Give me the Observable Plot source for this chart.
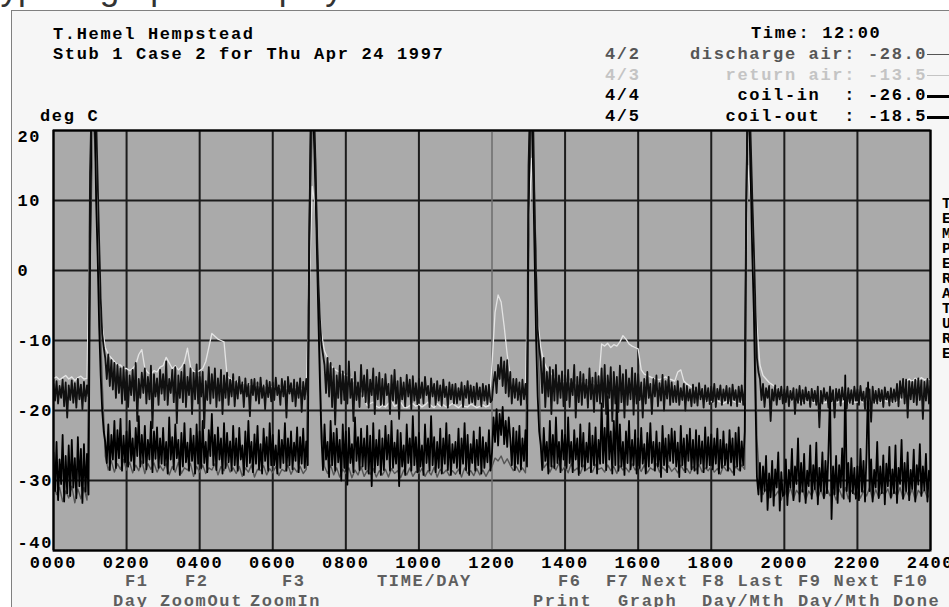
<!DOCTYPE html>
<html>
<head>
<meta charset="utf-8">
<script src="https://cdn.jsdelivr.net/npm/d3@7"></script>
<script src="https://cdn.jsdelivr.net/npm/@observablehq/plot@0.6"></script>
<style>
  html, body { margin: 0; padding: 0; width: 949px; height: 607px; overflow: hidden; background: #ffffff; }
  #doc { position: absolute; left: -19px; top: -30px; font: 35px "Liberation Sans", Arial, sans-serif; line-height: 35px; color: #333; white-space: nowrap; }
  #screen { position: absolute; left: 11px; top: 10px; width: 980px; height: 640px; border: 1px solid #808080; background: #f6f6f6; }
  #chart { position: absolute; left: 0; top: 0; }
  .t { position: absolute; font-family: "Liberation Mono", monospace; font-weight: bold; font-size: 17px;
       letter-spacing: 1.66px; line-height: 20.7px; white-space: pre; color: #000; }
  .sw { position: absolute; left: 927px; width: 40px; height: 0; }
  .fk { color: #5f5f5f; }
  #vert { position: absolute; left: 942px; top: 196.7px; font-family: "Liberation Mono", monospace; font-weight: bold;
          font-size: 15px; line-height: 15px; color: #000; width: 12px; white-space: pre; }
</style>
</head>
<body>
<div id="doc">Typical graph is displayed on the</div>
<div id="screen"></div>
<div id="chart"></div>
<div id="texts"></div>
<script>
// ---- data: temperatures (deg C), 0000 .. 2400 ----
// air temperatures every 5 minutes, coil temperatures every 2.5 minutes
const airStepMinutes = 5;
const coilStepMinutes = 2.5;

const dischargeAir = [
  -30.5, -32.0, -31.0, -33.0, -31.5, -32.5, -30.8, -33.2, -31.2, -32.6, -31.0, -32.8,
  0, 24, 14, -2, -16, -26.5, -28.5, -27.2, -28.8, -27.6, -28.4, -27.0,
  -28.5, -27.4, -28.9, -27.8, -28.6, -27.2, -29.0, -27.6, -28.4, -27.5, -28.8, -27.9,
  -28.6, -27.6, -29.2, -28.0, -28.8, -27.4, -29.0, -28.2, -28.5, -27.6, -29.4, -28.0,
  -28.8, -27.8, -29.0, -28.2, -28.5, -27.6, -29.2, -28.0, -28.6, -27.5, -28.8, -28.2,
  -29.0, -28.0, -29.4, -28.2, -28.8, -27.8, -29.5, -28.4, -28.6, -27.9, -29.2, -28.3,
  -28.9, -28.0, -29.3, -28.4, -28.7, -27.8, -29.1, -28.2, -28.8, -28.0, -29.0, -28.4,
  2, 22, 16, -4, -22, -28.0, -29.0, -27.8, -29.2, -28.2, -29.5, -28.4,
  -29.0, -28.2, -29.6, -28.5, -29.2, -28.0, -29.4, -28.6, -29.1, -28.3, -29.5, -28.6,
  -29.2, -28.4, -29.5, -28.3, -29.0, -28.6, -29.6, -28.5, -29.2, -28.2, -29.4, -28.7,
  -29.0, -28.3, -29.4, -28.6, -29.2, -28.1, -29.5, -28.4, -29.0, -28.5, -29.3, -28.6,
  -29.1, -28.4, -29.5, -28.2, -29.0, -28.6, -29.3, -28.3, -29.2, -28.5, -29.4, -28.6,
  -28.0, -26.8, -27.2, -26.5, -27.6, -26.9, -27.8, -28.6, -28.0, -28.8, -28.2, -28.9,
  4, 24, 10, -8, -24, -28.2, -27.6, -28.8, -27.9, -28.5, -27.5, -28.6,
  -28.0, -28.9, -27.6, -28.6, -28.2, -29.0, -27.8, -28.5, -28.1, -28.8, -27.7, -28.4,
  -28.2, -28.8, -27.8, -28.6, -28.0, -29.0, -27.9, -28.5, -28.2, -28.8, -27.6, -28.5,
  -28.0, -28.7, -27.8, -28.9, -28.2, -28.5, -27.6, -28.8, -28.1, -28.6, -27.9, -28.7,
  -28.2, -28.9, -27.8, -28.6, -28.3, -29.0, -28.0, -28.5, -27.7, -28.8, -28.2, -28.6,
  -28.0, -28.8, -28.3, -29.1, -27.9, -28.6, -28.2, -28.9, -28.0, -28.5, -27.8, -28.4,
  24, 16, 0, -24, -31.0, -32.0, -31.2, -32.5, -31.0, -32.2, -31.5, -32.8,
  -31.2, -32.4, -31.0, -32.6, -31.4, -32.0, -31.2, -32.8, -31.5, -32.2, -31.0, -32.5,
  -31.3, -32.6, -31.1, -32.2, -31.6, -32.8, -31.2, -32.4, -31.0, -32.6, -31.4, -32.0,
  -31.2, -32.5, -31.5, -32.2, -31.0, -32.7, -31.3, -32.4, -31.6, -32.0, -31.2, -32.6,
  -31.4, -32.2, -31.0, -32.6, -31.5, -32.3, -31.2, -32.8, -31.4, -32.0, -31.3, -32.5,
  -31.8
];

const returnAir = [
  -15.4, -15.2, -15.6, -15.3, -15.0, -15.5, -15.2, -15.7, -15.3, -15.1, -15.5, -15.4,
  8, 24, 20, 1, -8, -11, -12, -12.5, -13, -13.5, -13.5, -14,
  -14.0, -14.3, -14.0, -13.5, -12.0, -11.3, -14.0, -14.6, -14.8, -14.3, -14.5, -13.8,
  -13.6, -12.4, -13.2, -14.0, -13.6, -14.2, -13.8, -13.0, -11.1, -13.8, -14.4, -14.5,
  -14.3, -14.0, -13.0, -11.0, -9.0, -9.4, -9.8, -10.0, -10.2, -15.0, -15.5, -15.6,
  -15.8, -16.0, -16.2, -16.0, -16.4, -16.2, -16.5, -16.3, -16.6, -16.4, -16.5, -16.7,
  -16.5, -16.8, -16.6, -16.9, -16.7, -17.0, -16.8, -16.6, -16.9, -17.0, -16.8, -17.1,
  -2, 12, 9, -3, -9, -11.5, -12.5, -13.5, -14.0, -14.3, -14.5, -14.7,
  -15.0, -15.0, -15.5, -16.0, -16.8, -17.5, -18.2, -19.3, -19.0, -18.8, -19.4, -19.6,
  -19.2, -19.5, -19.0, -18.6, -19.4, -19.2, -18.8, -19.5, -19.6, -19.3, -19.0, -19.4,
  -19.1, -19.5, -19.2, -18.8, -19.3, -19.6, -19.0, -19.4, -19.2, -19.5, -19.3, -19.0,
  -19.3, -19.6, -19.2, -19.4, -19.5, -19.1, -19.3, -19.6, -19.4, -19.2, -19.5, -19.3,
  -13.5, -6.0, -3.5, -4.5, -8.0, -12.0, -15.0, -16.8, -17.5, -17.2, -17.6, -17.0,
  5, 16, 6, -7, -11, -13, -14, -14.5, -15, -15.5, -16, -15.8,
  -16.0, -15.6, -16.2, -15.8, -16.4, -16.0, -15.7, -16.2, -16.5, -16.0, -16.3, -16.1,
  -10.5, -10.8, -10.4, -11.0, -10.6, -10.8, -10.2, -9.3, -9.8, -10.5, -10.8, -11.0,
  -11.2, -14.2, -14.8, -15.0, -15.2, -15.4, -15.5, -15.6, -15.4, -15.2, -15.5, -15.6,
  -15.8, -14.5, -14.2, -15.8, -16.2, -16.5, -16.8, -17.2, -17.8, -18.4, -18.6, -18.8,
  -18.7, -18.9, -18.6, -18.8, -19.0, -18.7, -18.9, -18.6, -18.8, -19.0, -18.7, -18.8,
  15, 10, 0, -8, -13.5, -15.0, -15.5, -16.0, -16.3, -16.6, -17.0, -17.5,
  -17.8, -18.2, -18.5, -18.6, -18.8, -18.7, -18.9, -18.6, -18.8, -18.7, -18.9, -18.8,
  -18.7, -18.9, -18.8, -18.6, -18.8, -18.9, -18.7, -18.8, -18.6, -18.9, -18.7, -18.8,
  -18.8, -18.6, -18.9, -18.7, -18.8, -18.6, -18.9, -18.7, -18.8, -18.6, -18.7, -18.9,
  -18.6, -18.8, -18.5, -17.5, -15.8, -15.5, -15.9, -15.4, -15.7, -15.3, -15.6, -15.5,
  -15.6
];

const coilIn = [
  -26.0, -31.5, -24.5, -32.8, -27.0, -30.5, -23.5, -33.0, -26.5, -31.8, -25.0, -32.2, -24.2, -31.0, -26.8, -32.5, -23.8, -30.8, -25.5, -33.2, -24.8, -31.6, -26.2, -32.0,
  3, 20, 26, 24, 10, 2, -8, -15, -20, -23.0, -24.5, -27.5, -22.0, -28.5, -23.5, -27.0, -21.5, -28.2, -22.8, -26.8, -21.2, -28.6, -23.6, -27.4,
  -23.0, -28.0, -21.5, -27.2, -24.0, -28.5, -22.5, -26.5, -20.8, -28.0, -23.5, -27.5, -22.2, -28.4, -24.2, -27.0, -21.6, -28.8, -23.0, -26.9, -22.4, -28.2, -24.0, -27.6,
  -22.5, -27.8, -24.5, -29.0, -21.0, -27.0, -23.8, -28.4, -22.0, -26.8, -24.2, -29.2, -23.2, -28.0, -21.8, -27.4, -24.6, -28.6, -22.6, -27.2, -23.6, -29.0, -22.0, -27.6,
  -23.0, -28.2, -21.5, -27.5, -24.5, -28.8, -22.8, -26.5, -20.5, -27.8, -23.5, -28.5, -22.4, -27.0, -24.0, -29.0, -21.8, -28.2, -23.2, -27.4, -24.4, -28.6, -22.2, -27.8,
  -24.0, -28.6, -22.5, -27.0, -25.0, -29.2, -23.0, -28.0, -21.5, -27.5, -24.5, -28.8, -23.4, -27.6, -22.2, -28.4, -24.8, -29.0, -22.6, -27.2, -23.8, -28.6, -21.8, -27.8,
  -23.5, -27.8, -25.0, -29.0, -22.8, -28.2, -24.2, -27.5, -21.8, -28.6, -24.0, -27.8, -23.0, -28.4, -24.6, -27.2, -22.4, -28.8, -23.8, -27.6, -22.6, -28.2, -24.4, -27.8,
  5, 22, 25, 20, 12, 3, -7, -16, -24.0, -28.5, -22.0, -27.0, -24.5, -29.5, -21.5, -27.8, -23.2, -28.6, -22.6, -27.4, -24.2, -30.0, -22.0, -28.2,
  -23.0, -30.6, -22.5, -27.5, -24.8, -28.8, -21.0, -27.2, -23.8, -28.5, -22.6, -28.0, -24.0, -28.4, -22.2, -29.0, -23.6, -30.8, -21.8, -28.8, -24.2, -27.8, -22.8, -29.2,
  -24.0, -28.5, -22.2, -27.0, -23.5, -28.6, -21.5, -28.2, -24.6, -27.6, -22.8, -30.8, -23.2, -28.0, -25.0, -29.2, -22.0, -27.5, -24.0, -28.6, -20.8, -27.8, -23.8, -28.8,
  -23.2, -28.0, -25.0, -29.2, -22.0, -27.5, -24.0, -28.6, -20.8, -27.8, -23.8, -28.8, -24.5, -28.2, -22.6, -29.0, -24.0, -27.6, -21.8, -28.5, -23.5, -29.2, -24.8, -27.5,
  -24.5, -28.2, -22.6, -29.0, -24.0, -27.6, -21.8, -28.5, -23.5, -29.2, -24.8, -27.5, -23.0, -28.6, -24.2, -27.8, -22.4, -29.0, -23.8, -28.2, -24.6, -27.4, -22.8, -28.6,
  -26.0, -21.0, -24.5, -19.8, -25.0, -20.5, -23.5, -19.5, -24.8, -21.5, -25.2, -21.0, -24.0, -27.8, -22.5, -28.5, -23.0, -27.6, -22.2, -28.4, -24.0, -27.2, -22.8, -28.0,
  8, 22, 26, 14, 2, -10, -18, -23, -25.0, -28.5, -22.5, -27.2, -24.5, -29.0, -21.5, -28.0, -23.5, -28.2, -21.0, -27.5, -24.5, -28.8, -22.8, -27.0,
  -23.5, -28.2, -21.0, -27.5, -24.5, -28.8, -22.8, -27.0, -24.0, -29.2, -22.0, -28.0, -23.2, -28.6, -24.6, -27.4, -21.8, -28.8, -23.6, -27.8, -22.4, -29.0, -24.2, -27.6,
  -19.0, -27.5, -22.5, -28.5, -18.0, -27.0, -23.0, -29.0, -21.5, -27.8, -17.8, -28.6, -22.0, -28.0, -24.5, -29.2, -23.0, -27.5, -21.5, -28.4, -24.2, -27.8, -22.8, -29.0,
  -24.0, -28.2, -22.5, -27.6, -24.8, -29.0, -23.2, -28.0, -21.8, -27.5, -24.5, -28.6, -23.0, -28.0, -24.6, -29.5, -22.2, -27.8, -24.0, -28.8, -23.5, -27.2, -22.6, -27.5,
  -23.0, -28.0, -24.6, -29.5, -22.2, -27.8, -24.0, -28.8, -23.5, -27.2, -22.6, -28.4, -24.2, -28.6, -22.8, -29.0, -23.6, -27.6, -24.4, -28.8, -22.4, -28.2, -23.8, -27.8,
  -23.4, -28.4, -24.0, -27.6, -22.6, -29.0, -24.2, -28.2, -23.0, -27.8, -24.8, -28.6, -22.8, -27.4, -24.0, -29.2, -23.2, -28.0, -22.4, -28.6, -24.4, -27.8, -23.0, 8,
  26, 22, 12, 2, -6, -18, -29.5, -32.0, -27.5, -33.0, -28.0, -31.5, -26.5, -34.2, -29.0, -32.4, -27.2, -33.6, -28.4, -31.0, -26.0, -34.3, -28.8, -32.2,
  -32.0, -27.0, -33.5, -28.5, -31.0, -25.5, -32.8, -28.0, -30.5, -24.0, -33.0, -27.5, -31.6, -26.2, -33.2, -28.6, -30.8, -25.0, -32.6, -27.8, -31.2, -24.6, -33.4, -28.2,
  -31.5, -26.0, -32.5, -27.2, -31.8, -25.8, -17.5, -35.5, -28.0, -32.0, -26.5, -33.2, -27.8, -31.0, -25.4, -32.6, -15.0, -31.5, -27.5, -33.0, -26.8, -31.8, -28.2, -32.6,
  -28.0, -32.8, -25.5, -31.6, -27.2, -33.0, -26.0, -16.0, -31.5, -27.0, -33.0, -28.5, -31.0, -24.5, -32.5, -28.0, -31.8, -26.4, -33.4, -27.6, -30.8, -25.2, -32.4, -28.4,
  -31.8, -25.0, -33.2, -28.2, -30.5, -24.2, -32.6, -27.5, -31.5, -26.0, -32.8, -28.5, -31.2, -25.6, -33.0, -27.8, -30.6, -24.8, -32.2, -28.0, -31.4, -26.2, -33.0, -28.6,
  -30.0
];

const coilOut = [
  -16.2, -18.6, -15.8, -19.0, -16.5, -18.2, -15.6, -19.4, -16.0, -21.0, -16.4, -18.5, -15.7, -18.9, -16.1, -19.6, -15.5, -18.4, -16.3, -19.8, -15.9, -18.7, -16.4, -18.0,
  14, 24, 26, 26, 22, 13, 4, -4, -9, -11.0, -12.5, -15.5, -12.0, -16.5, -12.8, -17.0, -13.2, -18.2, -13.5, -17.5, -14.0, -19.0, -13.8, -18.5,
  -14.5, -19.5, -15.0, -17.8, -14.2, -18.6, -13.2, -21.5, -15.5, -18.2, -14.6, -17.5, -14.0, -19.0, -15.2, -18.4, -13.6, -22.5, -14.8, -18.0, -15.4, -19.2, -14.2, -17.6,
  -14.8, -18.5, -13.0, -19.2, -15.5, -17.5, -14.2, -18.8, -13.8, -21.8, -15.0, -18.2, -14.5, -18.8, -13.5, -19.5, -15.2, -17.8, -14.0, -20.5, -14.6, -18.4, -13.4, -19.0,
  -15.2, -18.0, -14.5, -22.5, -15.8, -18.5, -13.8, -19.0, -14.8, -18.2, -14.0, -19.5, -15.4, -18.6, -14.2, -20.5, -15.0, -18.2, -14.6, -19.2, -15.6, -18.0, -14.8, -19.4,
  -15.8, -18.3, -15.2, -17.6, -16.0, -19.5, -15.4, -18.0, -16.2, -20.8, -15.6, -17.8, -15.5, -18.6, -16.0, -19.0, -15.3, -18.2, -16.4, -19.8, -15.7, -18.1, -15.9, -18.7,
  -16.0, -18.5, -15.3, -17.8, -16.4, -19.2, -15.5, -18.0, -15.8, -21.0, -15.2, -17.6, -16.1, -18.7, -15.6, -19.4, -16.0, -18.2, -15.4, -20.2, -15.9, -18.4, -15.5, -17.8,
  4, 20, 25, 24, 16, 6, -2, -7, -10.5, -12.0, -13.5, -17.5, -12.5, -18.0, -13.2, -19.5, -14.0, -22.0, -15.0, -18.2, -13.6, -19.0, -14.4, -18.5,
  -14.8, -19.0, -13.0, -18.2, -15.5, -21.5, -14.5, -18.5, -16.0, -19.5, -13.5, -18.0, -15.0, -18.8, -14.2, -19.6, -15.6, -17.8, -14.0, -20.5, -15.2, -18.4, -14.6, -19.2,
  -15.5, -19.2, -14.8, -17.8, -16.2, -20.5, -15.0, -18.6, -14.2, -19.0, -15.8, -21.2, -15.3, -18.4, -16.0, -19.4, -14.9, -18.0, -15.6, -19.8, -15.1, -18.6, -16.1, -19.1,
  -15.5, -18.2, -16.0, -19.0, -15.2, -17.8, -16.5, -19.5, -15.4, -18.0, -16.2, -19.2, -15.8, -18.6, -16.4, -19.3, -15.6, -18.1, -16.6, -19.6, -16.0, -18.4, -16.3, -19.0,
  -16.2, -19.0, -16.8, -18.5, -16.0, -19.5, -16.5, -18.2, -15.8, -19.0, -16.4, -18.8, -16.6, -19.2, -16.1, -18.4, -16.7, -19.4, -16.2, -18.6, -16.5, -19.1, -16.3, -18.8,
  -18.5, -16.0, -14.5, -17.5, -13.5, -15.5, -12.4, -16.5, -13.0, -17.5, -12.8, -18.0, -14.5, -19.0, -15.5, -18.2, -15.5, -18.5, -16.0, -19.2, -15.6, -18.4, -16.2, -19.0,
  15, 24, 26, 22, 8, -1, -8.5, -11.0, -13.0, -17.5, -12.5, -19.5, -14.5, -18.0, -13.8, -20.5, -14.2, -18.6, -13.5, -19.0, -15.0, -18.2, -14.4, -19.4,
  -15.0, -18.5, -14.2, -19.5, -15.5, -17.8, -13.5, -21.0, -15.2, -18.8, -14.5, -19.2, -14.8, -18.2, -15.6, -19.6, -14.0, -18.4, -15.3, -20.2, -14.6, -18.7, -15.1, -19.0,
  -14.0, -19.5, -13.5, -20.5, -15.0, -18.2, -13.8, -21.5, -14.5, -19.0, -15.2, -20.2, -13.6, -18.8, -14.8, -21.0, -14.2, -19.2, -15.4, -18.4, -13.9, -20.6, -14.7, -19.0,
  -14.8, -18.5, -16.0, -21.0, -15.5, -19.0, -14.5, -18.2, -16.2, -20.5, -15.5, -18.0, -15.0, -19.4, -16.1, -18.6, -14.9, -20.0, -15.8, -18.3, -15.2, -19.2, -16.0, -18.8,
  -16.5, -18.8, -15.8, -19.2, -16.8, -18.5, -16.2, -20.0, -16.5, -18.6, -17.0, -19.4, -16.3, -18.9, -16.7, -19.3, -16.1, -18.4, -16.9, -19.6, -16.4, -18.7, -16.8, -19.1,
  -16.6, -18.8, -16.2, -19.5, -16.9, -18.4, -16.4, -19.2, -17.0, -18.6, -16.5, -19.0, -16.8, -19.3, -16.3, -18.5, -17.1, -19.4, -16.6, -18.8, -16.4, -19.2, -16.9, 10,
  26, 26, 18, 10, 3, -5, -12.5, -14.5, -15.5, -18.5, -16.2, -19.5, -16.8, -18.2, -16.5, -21.5, -17.0, -18.6, -16.4, -19.2, -16.9, -18.4, -16.6, -19.0,
  -17.0, -18.8, -16.6, -19.4, -17.2, -18.5, -16.8, -20.5, -17.0, -18.9, -16.5, -19.2, -17.1, -19.0, -16.7, -18.6, -17.3, -19.5, -16.9, -18.7, -17.2, -19.2, -16.6, -22.4,
  -17.2, -19.0, -16.8, -18.5, -17.4, -19.6, -16.6, -18.7, -17.1, -21.0, -16.9, -18.6, -17.0, -19.3, -16.7, -18.4, -17.3, -19.7, -16.8, -18.9, -17.1, -19.1, -16.6, -18.6,
  -17.0, -19.2, -16.5, -18.6, -17.3, -19.8, -16.8, -18.5, -17.0, -21.6, -16.6, -18.9, -17.2, -19.0, -16.9, -18.7, -17.1, -19.5, -16.7, -18.4, -17.3, -19.3, -16.8, -18.8,
  -17.0, -18.7, -16.2, -19.4, -15.8, -18.2, -15.5, -19.0, -15.6, -21.0, -15.8, -18.4, -15.9, -18.8, -15.6, -19.2, -15.4, -18.5, -15.7, -21.2, -15.9, -18.6, -15.5, -19.0,
  -16.5
];

// ---- axes / labels ----
const xTicks = [0, 2, 4, 6, 8, 10, 12, 14, 16, 18, 20, 22, 24];
const xTickLabels = ["0000", "0200", "0400", "0600", "0800", "1000", "1200", "1400", "1600", "1800", "2000", "2200", "2400"];
const yTicks = [-40, -30, -20, -10, 0, 10, 20];
const cursorHour = 12;
const cursorLabel = "12:00";

const legendIds = ["4/2", "4/3", "4/4", "4/5"];
const legendLabels = ["discharge air", "return air", "coil-in  ", "coil-out  "];
const seriesValues = [dischargeAir, returnAir, coilIn, coilOut];
const seriesSteps = [airStepMinutes, airStepMinutes, coilStepMinutes, coilStepMinutes];
const seriesColors = ["#555555", "#e4e4e4", "#000000", "#101010"];
const textColors = ["#555555", "#c4c4c4", "#000000", "#000000"];
const lineWidths = [1.4, 1.3, 1.8, 1.8];
const swatchWidths = [1.5, 1.5, 3.5, 3.5];

const fkeyRow1 = [["F1", 125], ["F2", 185], ["F3", 282], ["TIME/DAY", 377], ["F6", 558], ["F7 Next", 606], ["F8 Last", 702], ["F9 Next", 798], ["F10", 893]];
const fkeyRow2 = [["Day", 113], ["ZoomOut", 160], ["ZoomIn", 250], ["Print", 533], ["Graph", 618], ["Day/Mth", 702], ["Day/Mth", 798], ["Done", 893]];
const sideWord = "TEMPERATURE";

// ---- build table ----
const table = seriesValues.flatMap((vals, s) =>
  vals.map((v, i) => ({ series: legendLabels[s].trim(), hour: i * seriesSteps[s] / 60, temp: v }))
);

const lineMarks = legendLabels.map((lab, s) =>
  Plot.line(table.filter(d => d.series === lab.trim()), {
    x: "hour", y: "temp", stroke: seriesColors[s], strokeWidth: lineWidths[s], clip: true
  })
);

const yEnds = [yTicks[0], yTicks[yTicks.length - 1]];
const yInner = yTicks.filter(d => !yEnds.includes(d));
const yAxisOpts = { tickFormat: d => String(d), tickSize: 0, tickPadding: 36, textAnchor: "start", label: null, fill: "#000" };

const chart = Plot.plot({
  width: 949,
  height: 607,
  marginTop: 130,
  marginRight: 19,
  marginBottom: 57,
  marginLeft: 53,
  style: "font-family: 'Liberation Mono', monospace; font-size: 17px; font-weight: bold; letter-spacing: 1.66px; background: transparent; color: #000; overflow: visible;",
  x: { domain: [0, 24], label: null },
  y: { domain: [-40, 20], label: null },
  marks: [
    Plot.frame({ fill: "#aaaaaa", stroke: null }),
    Plot.ruleX(xTicks.filter(d => d !== cursorHour), { stroke: "#1c1c1c", strokeWidth: 2 }),
    Plot.ruleY(yTicks, { stroke: "#1c1c1c", strokeWidth: 2 }),
    Plot.ruleX([cursorHour], { stroke: "#6c6c6c", strokeWidth: 1.5 }),
    ...lineMarks,
    Plot.frame({ stroke: "#000", strokeWidth: 2 }),
    Plot.axisX({ ticks: xTicks, tickFormat: d => xTickLabels[xTicks.indexOf(d)], tickSize: 0, tickPadding: 5, label: null, fill: "#000" }),
    Plot.axisY({ ticks: yInner, ...yAxisOpts }),
    Plot.axisY({ ticks: [yEnds[1]], ...yAxisOpts, dy: 6 }),
    Plot.axisY({ ticks: [yEnds[0]], ...yAxisOpts, dy: -8 })
  ]
});
document.getElementById("chart").append(chart);

// ---- header / legend / footer text ----
const texts = document.getElementById("texts");
function addText(str, left, centerY, cls, color) {
  const el = document.createElement("div");
  el.className = "t" + (cls ? " " + cls : "");
  el.textContent = str;
  el.style.left = left + "px";
  el.style.top = (centerY - 9.4) + "px";
  if (color) el.style.color = color;
  texts.append(el);
  return el;
}
const rowY = [33.5, 54.2, 74.9, 95.6, 116.3];
addText("T.Hemel Hempstead", 53, 34.7);
addText("Stub 1 Case 2 for Thu Apr 24 1997", 53, 54.6);
addText("Time: " + cursorLabel, 751, rowY[0]);
legendLabels.forEach((lab, s) => {
  const y = rowY[s + 1];
  const cursorIndex = cursorHour * 60 / seriesSteps[s];
  addText(legendIds[s], 605, y, "", textColors[s]);
  addText(lab.padStart(13) + ": " + seriesValues[s][cursorIndex].toFixed(1), 690, y, "", textColors[s]);
  const sw = document.createElement("div");
  sw.className = "sw";
  sw.style.top = (y + 1 - swatchWidths[s] / 2) + "px";
  sw.style.borderTop = swatchWidths[s] + "px solid " + (s < 2 ? textColors[s] : "#000");
  texts.append(sw);
});
addText("deg C", 40, rowY[4]);
fkeyRow1.forEach(([s, x]) => addText(s, x, 581.7, "fk"));
fkeyRow2.forEach(([s, x]) => addText(s, x, 601.5, "fk"));
const vert = document.createElement("div");
vert.id = "vert";
vert.textContent = sideWord.split("").join("\n");
texts.append(vert);
</script>
</body>
</html>
